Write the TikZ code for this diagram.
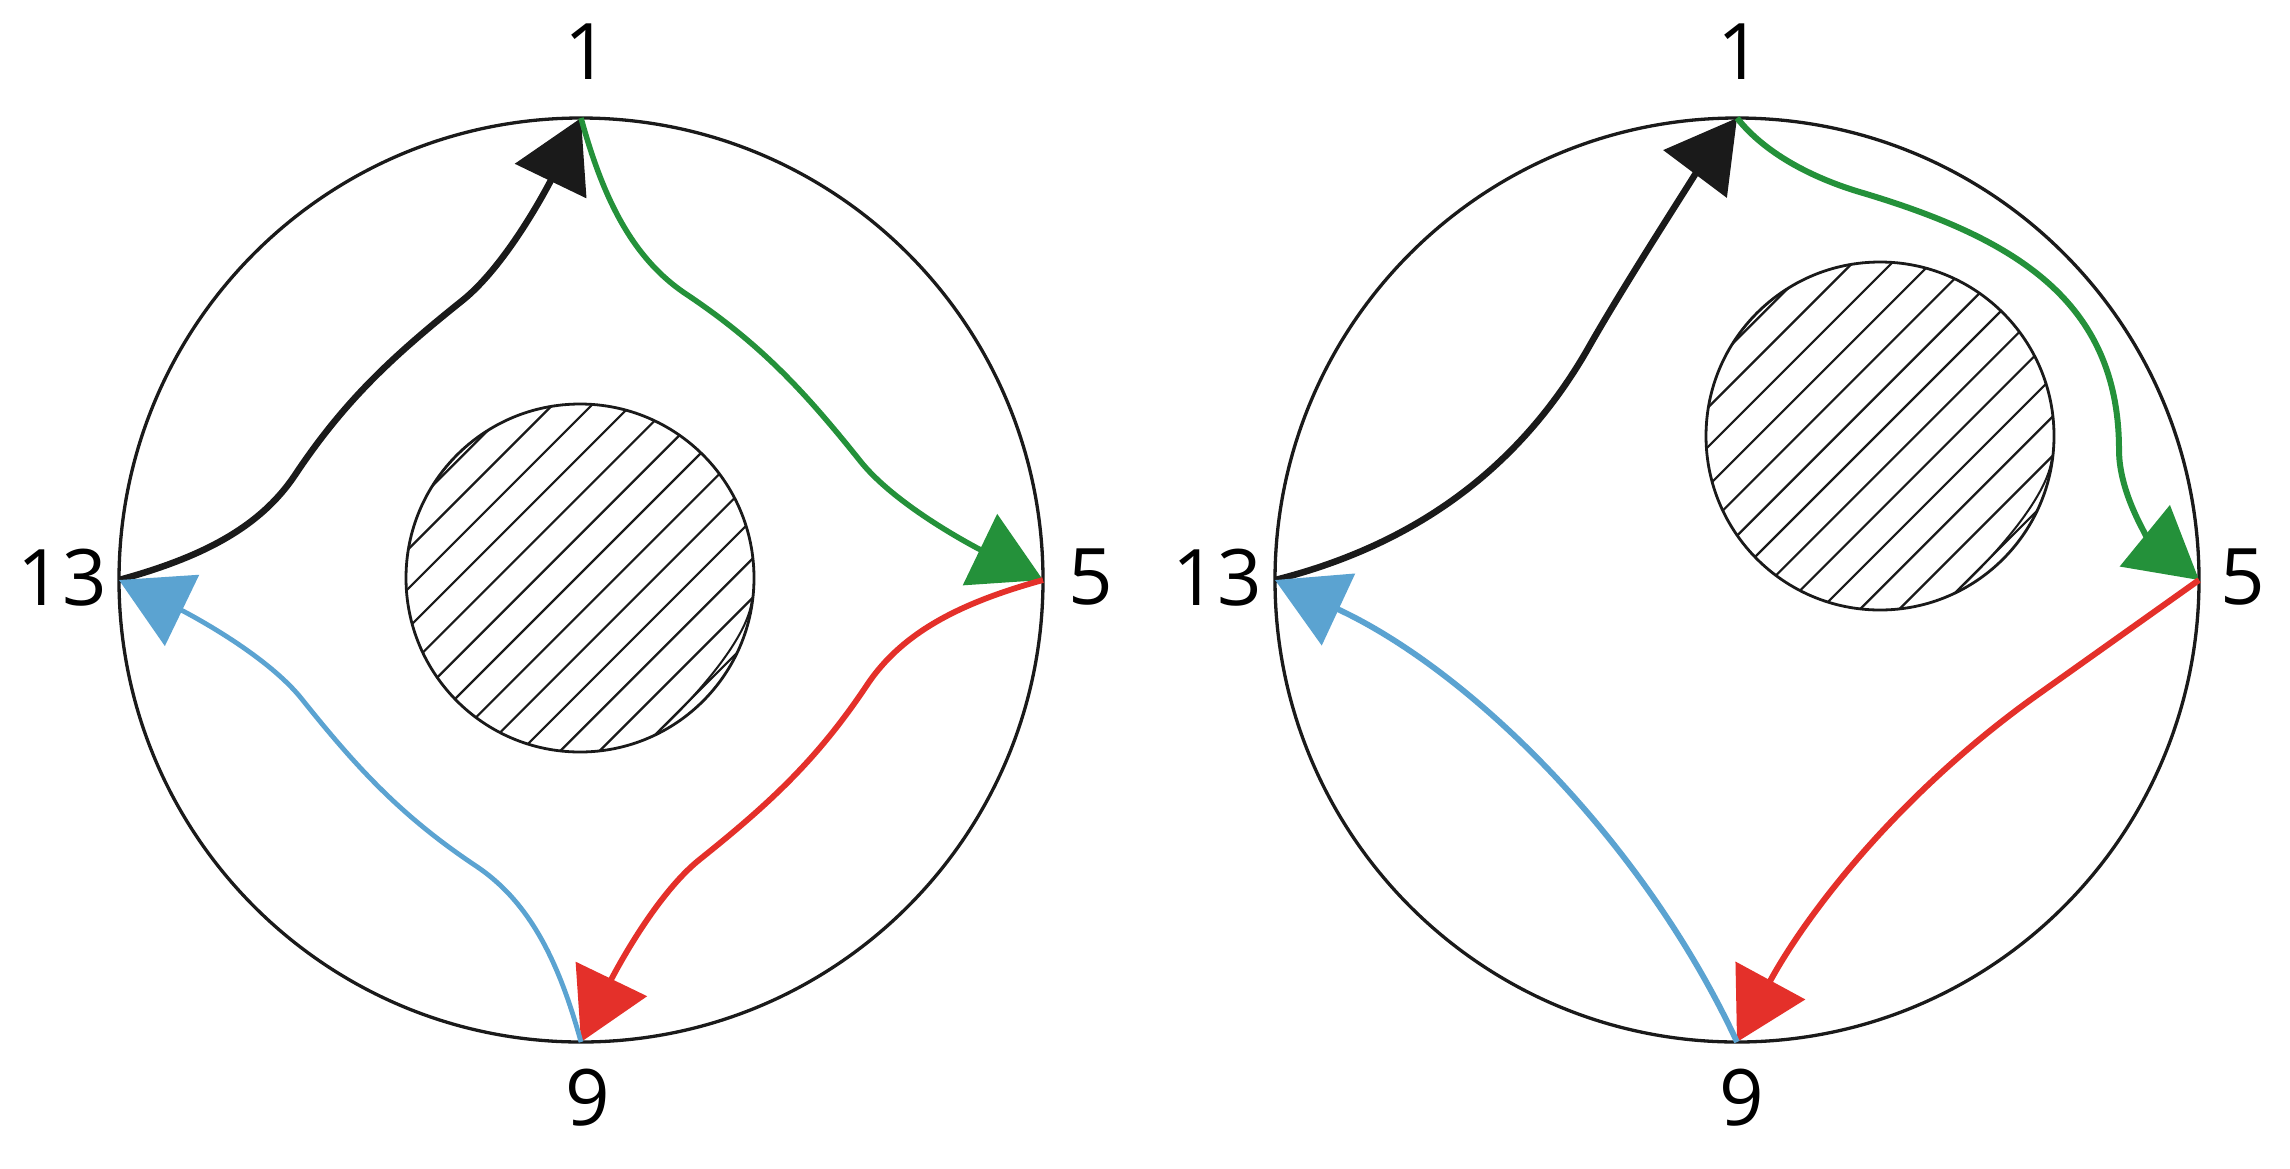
\documentclass[tikz,border=0pt]{standalone}
\usepackage{fontspec}
\setmainfont{Open Sans}
\usetikzlibrary{arrows.meta}
\definecolor{cgreen}{HTML}{24913A}
\definecolor{cred}{HTML}{E4302A}
\definecolor{cblue}{HTML}{5BA3D1}
\definecolor{cblack}{HTML}{1A1A1A}
\begin{document}
\begin{tikzpicture}[x=1pt,y=-1pt,
  rim/.style={draw=cblack, line width=3.3pt},
  hatchdisc/.style={draw=cblack, line width=2.8pt},
  hatchline/.style={line width=2.2pt, draw=cblack},
  flow/.style={line width=6.5pt, -{Triangle[length=70pt,width=78pt]}},
  lbl/.style={inner sep=0pt, font=\fontsize{78}{80}\selectfont}]
\useasboundingbox (0,0) rectangle (2290,1168);
\fill[white] (0,0) rectangle (2290,1168);

% ---------- left diagram ----------
\coordinate (C1) at (581,580);
\draw[rim] (C1) circle[radius=462];
\coordinate (a1) at (581,118);
\coordinate (a5) at (1043,580);
\coordinate (a9) at (581,1042);
\coordinate (a13) at (119,580);
\node[lbl] (la1) at (587,52) {1};
\node[lbl] (la5) at (1091,577) {5};
\node[lbl] (la9) at (588,1098) {9};
\node[lbl] (la13) at (62,578) {13};

\begin{scope}
  \clip (580,578) circle[radius=174];
  \foreach \k in {-7,...,7} {
    \pgfmathsetmacro\s{-4+\k*39.3}
    \draw[hatchline] (580-250+\s/2, 578+250+\s/2) -- (580+250+\s/2, 578-250+\s/2);
  }
\end{scope}
\draw[hatchdisc] (580,578) circle[radius=174];
\draw[hatchline, line width=2pt] (752,598) .. controls (750,640) and (683,709) .. (660,730);

\draw[flow, cblack] (a13) .. controls (199,558) and (259,529) .. (295,475)
   .. controls (345,400) and (393,356) .. (463,300)
   .. controls (511,261) and (554,174) .. (a1);
\draw[flow, cgreen, line width=5.5pt] (a1) .. controls (603,198) and (632,258) .. (686,294)
   .. controls (761,344) and (805,392) .. (861,462)
   .. controls (900,510) and (987,553) .. (a5);
\draw[flow, cred, line width=5.8pt] (a5) .. controls (963,602) and (903,631) .. (867,685)
   .. controls (817,760) and (769,804) .. (699,860)
   .. controls (651,899) and (608,986) .. (a9);
\draw[flow, cblue, line width=4.8pt] (a9) .. controls (559,962) and (530,902) .. (476,866)
   .. controls (401,816) and (357,768) .. (301,698)
   .. controls (262,650) and (175,607) .. (a13);

% ---------- right diagram ----------
\coordinate (C2) at (1737,580);
\draw[rim] (C2) circle[radius=462];
\coordinate (b1) at (1737,118);
\coordinate (b5) at (2199,580);
\coordinate (b9) at (1737,1042);
\coordinate (b13) at (1275,580);
\node[lbl] (lb1) at (1740,52) {1};
\node[lbl] (lb5) at (2243,577) {5};
\node[lbl] (lb9) at (1742,1098) {9};
\node[lbl] (lb13) at (1217,578) {13};

\begin{scope}
  \clip (1880,436) circle[radius=174];
  \foreach \k in {-7,...,7} {
    \pgfmathsetmacro\s{-4+\k*39.3}
    \draw[hatchline] (1880-250+\s/2, 436+250+\s/2) -- (1880+250+\s/2, 436-250+\s/2);
  }
\end{scope}
\draw[hatchdisc] (1880,436) circle[radius=174];
\draw[hatchline, line width=2pt] (2052,456) .. controls (2050,498) and (1983,567) .. (1960,588);

\draw[flow, cblack] (b13) .. controls (1406,547) and (1516.5,475.5) .. (1590,345)
   .. controls (1627,280) and (1701,166) .. (b1);
\draw[flow, cgreen, line width=6pt] (b1) .. controls (1767,156) and (1818,180) .. (1863,193)
   .. controls (2013,238) and (2119,300) .. (2119,450)
   .. controls (2119,495) and (2150,540) .. (b5);
\draw[flow, cred, line width=6pt] (b5) -- (2040,693)
   .. controls (1900,792) and (1807,913) .. (b9);
\draw[flow, cblue, line width=5.8pt] (b9) .. controls (1645,844) and (1473,672) .. (b13);
\end{tikzpicture}
\end{document}
